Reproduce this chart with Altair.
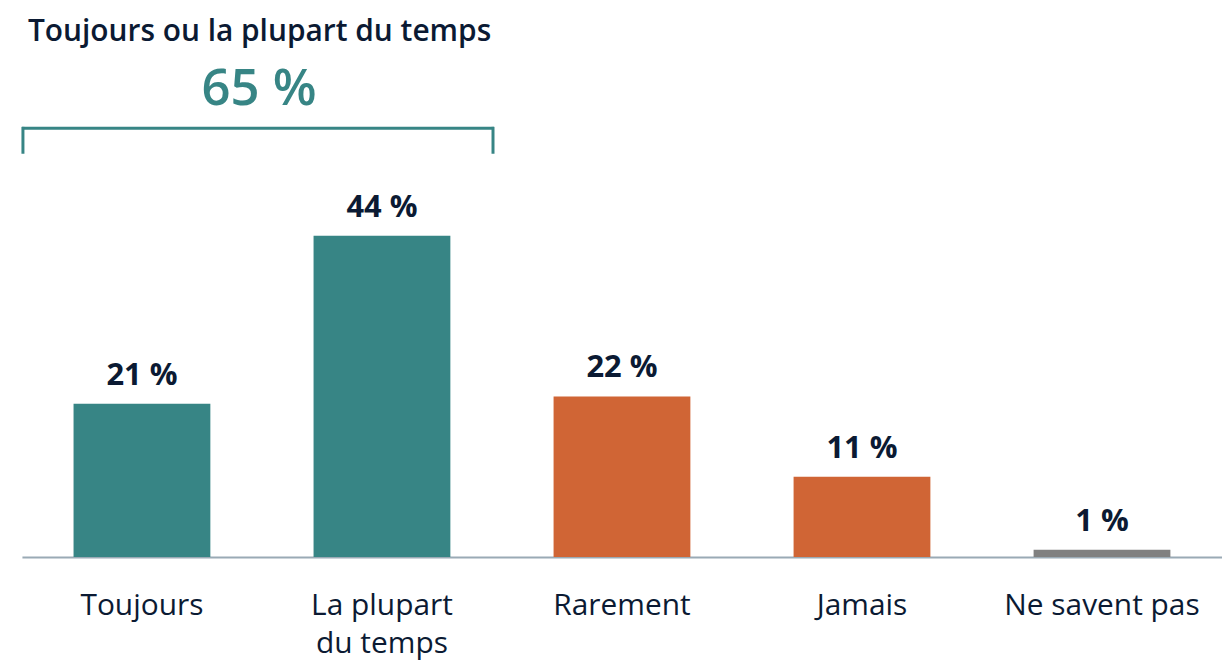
import altair as alt
import pandas as pd

categories = ["Toujours", "La plupart du temps", "Rarement", "Jamais", "Ne savent pas"]
values = [21, 44, 22, 11, 1]
labels = ["21 %", "44 %", "22 %", "11 %", "1 %"]
colors = ["#378585", "#378585", "#D06535", "#D06535", "#808080"]

title_text = "Toujours ou la plupart du temps"
total_text = "65 %"

FONT = "Open Sans"
NAVY = "#0B1A33"
TEAL = "#378585"

df = pd.DataFrame({"cat": categories, "val": values, "lab": labels, "col": colors})

x = alt.X("cat:N", sort=categories,
          scale=alt.Scale(paddingInner=0.43, paddingOuter=0.215),
          axis=alt.Axis(title=None, labelAngle=0, ticks=False, tickSize=0, grid=False,
                        domainColor="#9AAAB5", domainWidth=2,
                        labelFont=FONT, labelFontSize=30, labelColor=NAVY,
                        labelPadding=34, labelLineHeight=38, labelLimit=0,
                        labelExpr="datum.value == 'La plupart du temps' ? ['La plupart', 'du temps'] : datum.value"))
y = alt.Y("val:Q", scale=alt.Scale(domain=[0, 75], nice=False), axis=None)

bars = alt.Chart(df).mark_bar(cornerRadius=0).encode(
    x=x, y=y, color=alt.Color("col:N", scale=None)
)
text = alt.Chart(df).mark_text(font=FONT, fontSize=31, fontWeight="bold", color=NAVY,
                               baseline="alphabetic", dy=-19).encode(
    x=alt.X("cat:N", sort=categories), y="val:Q", text="lab:N"
)

ann = pd.DataFrame({"t": [title_text]})
title = alt.Chart(ann).mark_text(font=FONT, fontSize=30, fontWeight=600, color=NAVY,
                                 align="left", baseline="alphabetic").encode(
    x=alt.value(6), y=alt.value(32), text="t:N"
)
tot = alt.Chart(pd.DataFrame({"t": [total_text]})).mark_text(
    font=FONT, fontSize=51, fontWeight=600, color=TEAL, align="center", baseline="alphabetic").encode(
    x=alt.value(238), y=alt.value(96), text="t:N"
)
hline = alt.Chart(ann).mark_rule(color=TEAL, strokeWidth=3).encode(
    x=alt.value(0), x2=alt.value(474), y=alt.value(119.5))
vl = alt.Chart(ann).mark_rule(color=TEAL, strokeWidth=3).encode(
    x=alt.value(1), y=alt.value(118), y2=alt.value(145))
vr = alt.Chart(ann).mark_rule(color=TEAL, strokeWidth=3).encode(
    x=alt.value(473), y=alt.value(118), y2=alt.value(145))

chart = alt.layer(bars, text, title, tot, hline, vl, vr).properties(
    width=1205, height=550,
    autosize=alt.AutoSizeParams(type="none"),
    padding={"left": 14, "top": 0, "right": 0, "bottom": 106},
).configure_view(stroke=None)

chart.save("out.html", embed_options={"renderer": "svg", "actions": False})
